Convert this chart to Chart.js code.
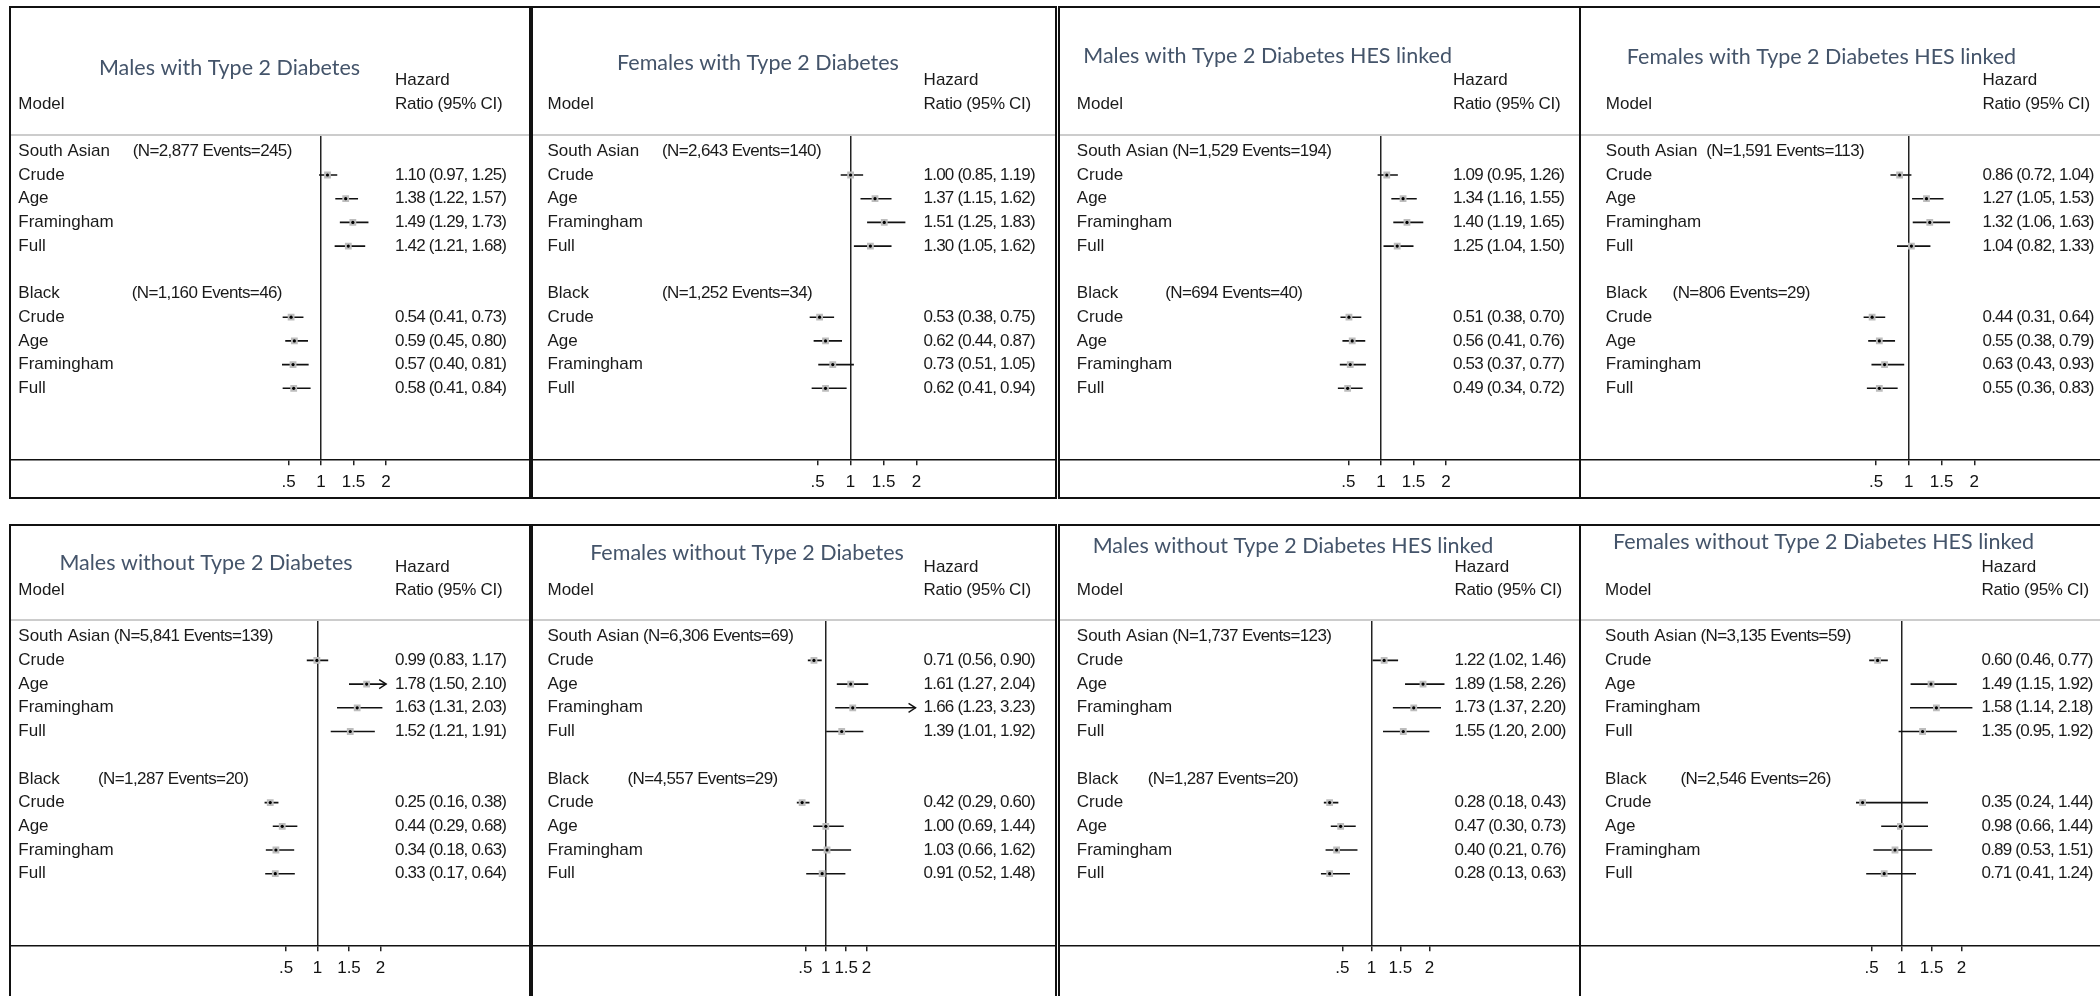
<!DOCTYPE html>
<html lang="en">
<head>
  <meta charset="UTF-8" />
  <title>Hazard ratios by ethnicity and model</title>
  <script src="https://cdn.jsdelivr.net/npm/chart.js"></script>
  <style>
    body {
      margin: 0;
      width: 2100px;
      height: 996px;
      overflow: hidden;
      position: relative;
      background: #ffffff;
    }
    .panel {
      position: absolute;
      box-sizing: border-box;
      border: 2px solid #111;
      background: #fff;
    }
    .panel canvas {
      display: block;
    }
  </style>
</head>
<body>
  <script>
    // ---------- data ----------
    const panelTitles = [
      "Males with Type 2 Diabetes",
      "Females with Type 2 Diabetes",
      "Males with Type 2 Diabetes HES linked",
      "Females with Type 2 Diabetes HES linked",
      "Males without Type 2 Diabetes",
      "Females without Type 2 Diabetes",
      "Males without Type 2 Diabetes HES linked",
      "Females without Type 2 Diabetes HES linked"
    ];
    const groupNames = ["South Asian", "Black"];
    const modelNames = ["Crude", "Age", "Framingham", "Full"];
    const groupCounts = [
      ["(N=2,877 Events=245)", "(N=1,160 Events=46)"],
      ["(N=2,643 Events=140)", "(N=1,252 Events=34)"],
      ["(N=1,529 Events=194)", "(N=694 Events=40)"],
      ["(N=1,591 Events=113)", "(N=806 Events=29)"],
      ["(N=5,841 Events=139)", "(N=1,287 Events=20)"],
      ["(N=6,306 Events=69)", "(N=4,557 Events=29)"],
      ["(N=1,737 Events=123)", "(N=1,287 Events=20)"],
      ["(N=3,135 Events=59)", "(N=2,546 Events=26)"]
    ];
    // order in each list: South Asian Crude, Age, Framingham, Full, then Black Crude, Age, Framingham, Full
    const hrValues = [
      [1.10, 1.38, 1.49, 1.42, 0.54, 0.59, 0.57, 0.58],
      [1.00, 1.37, 1.51, 1.30, 0.53, 0.62, 0.73, 0.62],
      [1.09, 1.34, 1.40, 1.25, 0.51, 0.56, 0.53, 0.49],
      [0.86, 1.27, 1.32, 1.04, 0.44, 0.55, 0.63, 0.55],
      [0.99, 1.78, 1.63, 1.52, 0.25, 0.44, 0.34, 0.33],
      [0.71, 1.61, 1.66, 1.39, 0.42, 1.00, 1.03, 0.91],
      [1.22, 1.89, 1.73, 1.55, 0.28, 0.47, 0.40, 0.28],
      [0.60, 1.49, 1.58, 1.35, 0.35, 0.98, 0.89, 0.71]
    ];
    const ciLower = [
      [0.97, 1.22, 1.29, 1.21, 0.41, 0.45, 0.40, 0.41],
      [0.85, 1.15, 1.25, 1.05, 0.38, 0.44, 0.51, 0.41],
      [0.95, 1.16, 1.19, 1.04, 0.38, 0.41, 0.37, 0.34],
      [0.72, 1.05, 1.06, 0.82, 0.31, 0.38, 0.43, 0.36],
      [0.83, 1.50, 1.31, 1.21, 0.16, 0.29, 0.18, 0.17],
      [0.56, 1.27, 1.23, 1.01, 0.29, 0.69, 0.66, 0.52],
      [1.02, 1.58, 1.37, 1.20, 0.18, 0.30, 0.21, 0.13],
      [0.46, 1.15, 1.14, 0.95, 0.24, 0.66, 0.53, 0.41]
    ];
    const ciUpper = [
      [1.25, 1.57, 1.73, 1.68, 0.73, 0.80, 0.81, 0.84],
      [1.19, 1.62, 1.83, 1.62, 0.75, 0.87, 1.05, 0.94],
      [1.26, 1.55, 1.65, 1.50, 0.70, 0.76, 0.77, 0.72],
      [1.04, 1.53, 1.63, 1.33, 0.64, 0.79, 0.93, 0.83],
      [1.17, 2.10, 2.03, 1.91, 0.38, 0.68, 0.63, 0.64],
      [0.90, 2.04, 3.23, 1.92, 0.60, 1.44, 1.62, 1.48],
      [1.46, 2.26, 2.20, 2.00, 0.43, 0.73, 0.76, 0.63],
      [0.77, 1.92, 2.18, 1.92, 1.44, 1.44, 1.51, 1.24]
    ];
    const tickValues = [0.5, 1, 1.5, 2];
    const tickLabels = [".5", "1", "1.5", "2"];

    // rows of the table: group header rows and model rows
    const groupRows = [0, 6];
    const modelRows = [1, 2, 3, 4, 7, 8, 9, 10];

    // ---------- layout (page pixels) ----------
    const rowLayout = [
      { top: 6, height: 493, hazardY: 80, ratioY: 104, sepY: 135, firstY: 151.3, gap: 23.7, axisY: 459.3 },
      { top: 524, height: 493, hazardY: 567, ratioY: 590, sepY: 620, firstY: 636.7, gap: 23.7, axisY: 945.3 }
    ];
    const panelLayout = [
      { row: 0, left: 9, width: 522, one: 321, unit: 65.0, labelX: 18.3, nSA: 114.4, nBlack: 113.4, hrX: 395, titleX: 229.5, titleY: 68, clipMax: Infinity },
      { row: 0, left: 531, width: 526, one: 850.6, unit: 66.0, labelX: 547.5, nSA: 114.4, nBlack: 114.4, hrX: 923.6, titleX: 758, titleY: 63, clipMax: Infinity },
      { row: 0, left: 1058, width: 523, one: 1380.9, unit: 65.2, labelX: 1076.8, nSA: 95.5, nBlack: 88.4, hrX: 1453, titleX: 1267.6, titleY: 56, clipMax: Infinity },
      { row: 0, left: 1579, width: 524, one: 1908.8, unit: 65.5, labelX: 1605.8, nSA: 100.5, nBlack: 66.8, hrX: 1982.5, titleX: 1821.5, titleY: 57, clipMax: Infinity },
      { row: 1, left: 9, width: 522, one: 317.5, unit: 63.0, labelX: 18.3, nSA: 95.5, nBlack: 79.7, hrX: 395, titleX: 206, titleY: 563, clipMax: 2.09 },
      { row: 1, left: 531, width: 526, one: 825.8, unit: 40.8, labelX: 547.5, nSA: 95.5, nBlack: 79.9, hrX: 923.6, titleX: 747, titleY: 553, clipMax: 3.2 },
      { row: 1, left: 1058, width: 523, one: 1371.4, unit: 58.0, labelX: 1076.8, nSA: 95.5, nBlack: 71, hrX: 1454.5, titleX: 1293, titleY: 546, clipMax: Infinity },
      { row: 1, left: 1579, width: 524, one: 1901.6, unit: 60.0, labelX: 1605.1, nSA: 95.4, nBlack: 75.4, hrX: 1981.5, titleX: 1823.5, titleY: 542, clipMax: Infinity }
    ];

    const BODY_FONT = "17px 'Liberation Sans', Arial, sans-serif";
    const TITLE_FONT = "400 21.5px Lato, 'Open Sans', sans-serif";
    const AXIS_H = 30;

    function fmt(v) {
      return v.toFixed(2);
    }

    function textPlugin(i) {
      return {
        id: "forestText" + i,
        afterDraw(chart) {
          const ctx = chart.ctx;
          const P = panelLayout[i];
          const R = rowLayout[P.row];
          const ox = P.left + 2;
          const oy = R.top + 2;
          const yScale = chart.scales.y;
          const xScale = chart.scales.x;

          ctx.save();
          ctx.textBaseline = "middle";

          // panel title
          ctx.font = TITLE_FONT;
          ctx.fillStyle = "#44546a";
          ctx.textAlign = "center";
          ctx.fillText(panelTitles[i], P.titleX - ox, P.titleY - oy);

          // column headers
          ctx.font = BODY_FONT;
          ctx.fillStyle = "#1a1a1a";
          ctx.textAlign = "left";
          ctx.fillText("Hazard", P.hrX - ox, R.hazardY - oy);
          ctx.letterSpacing = "-0.3px";
          ctx.fillText("Ratio (95% CI)", P.hrX - ox, R.ratioY - oy);
          ctx.letterSpacing = "0px";
          ctx.fillText("Model", P.labelX - ox, R.ratioY - oy);

          // group headers
          groupNames.forEach((g, gi) => {
            const gy = yScale.getPixelForValue(groupRows[gi]);
            ctx.letterSpacing = "0px";
            ctx.fillText(g, P.labelX - ox, gy);
            ctx.letterSpacing = "-0.6px";
            ctx.fillText(groupCounts[i][gi], P.labelX - ox + (gi ? P.nBlack : P.nSA), gy);
          });

          // model rows and estimates
          modelRows.forEach((r, k) => {
            const ry = yScale.getPixelForValue(r);
            ctx.letterSpacing = "0px";
            ctx.fillText(modelNames[k % 4], P.labelX - ox, ry);
            ctx.letterSpacing = "-0.8px";
            const txt = fmt(hrValues[i][k]) + " (" + fmt(ciLower[i][k]) + ", " + fmt(ciUpper[i][k]) + ")";
            ctx.fillText(txt, P.hrX - ox, ry);
          });
          ctx.letterSpacing = "0px";

          // arrow heads for intervals running past the plotted range
          ctx.strokeStyle = "#111";
          ctx.lineWidth = 1.4;
          modelRows.forEach((r, k) => {
            if (ciUpper[i][k] > P.clipMax) {
              const tx = xScale.getPixelForValue(P.clipMax);
              const ty = yScale.getPixelForValue(r);
              ctx.beginPath();
              ctx.moveTo(tx - 7, ty - 4.5);
              ctx.lineTo(tx, ty);
              ctx.lineTo(tx - 7, ty + 4.5);
              ctx.stroke();
            }
          });
          ctx.restore();
        }
      };
    }

    function buildPanel(i) {
      const P = panelLayout[i];
      const R = rowLayout[P.row];

      const div = document.createElement("div");
      div.className = "panel";
      div.style.left = P.left + "px";
      div.style.top = R.top + "px";
      div.style.width = P.width + "px";
      div.style.height = R.height + "px";
      const canvas = document.createElement("canvas");
      const cw = P.width - 4;
      const ch = R.height - 4;
      canvas.width = cw;
      canvas.height = ch;
      canvas.style.width = cw + "px";
      canvas.style.height = ch + "px";
      div.appendChild(canvas);
      document.body.appendChild(div);

      const canvasLeft = P.left + 2;
      const canvasTop = R.top + 2;
      const xMin = 1 - (P.one - canvasLeft) / P.unit;
      const xMax = xMin + cw / P.unit;
      const yMin = (R.sepY - R.firstY) / R.gap;
      const yMax = (R.axisY - R.firstY) / R.gap;

      const ciSets = modelRows.map((r, k) => ({
        data: [
          { x: ciLower[i][k], y: r },
          { x: Math.min(ciUpper[i][k], P.clipMax), y: r }
        ],
        showLine: true,
        borderColor: "#111",
        borderWidth: 1.6,
        pointRadius: 0,
        order: 3
      }));

      const boxSet = {
        data: modelRows.map((r, k) => ({ x: hrValues[i][k], y: r })),
        pointStyle: "rect",
        pointRadius: 4.8,
        backgroundColor: "#bdbdbd",
        borderWidth: 0,
        order: 2
      };

      const dotSet = {
        data: modelRows.map((r, k) => ({ x: hrValues[i][k], y: r })),
        pointStyle: "circle",
        pointRadius: 1.6,
        backgroundColor: "#000",
        borderWidth: 0,
        order: 1
      };

      new Chart(canvas.getContext("2d"), {
        type: "scatter",
        data: { datasets: [dotSet, boxSet, ...ciSets] },
        options: {
          responsive: false,
          animation: false,
          events: [],
          layout: {
            autoPadding: false,
            padding: {
              left: 0,
              right: 0,
              top: R.sepY - canvasTop,
              bottom: ch - AXIS_H - (R.axisY - canvasTop)
            }
          },
          plugins: {
            legend: { display: false },
            tooltip: { enabled: false }
          },
          scales: {
            x: {
              type: "linear",
              position: "bottom",
              min: xMin,
              max: xMax,
              bounds: "data",
              afterBuildTicks: (axis) => {
                axis.ticks = tickValues.map(v => ({ value: v }));
              },
              afterFit: (axis) => {
                axis.height = AXIS_H;
              },
              ticks: {
                autoSkip: false,
                maxRotation: 0,
                padding: 7,
                color: "#111",
                font: { family: "'Liberation Sans', Arial, sans-serif", size: 17 },
                callback: (v) => tickLabels[tickValues.indexOf(v)]
              },
              grid: {
                drawOnChartArea: true,
                drawTicks: true,
                tickLength: 6,
                tickColor: "#222",
                lineWidth: 1.5,
                color: (c) => (c.tick && c.tick.value === 1 ? "#222" : "rgba(0,0,0,0)")
              },
              border: { display: true, color: "#111", width: 1.5 }
            },
            x2: {
              type: "linear",
              position: "top",
              min: 0,
              max: 1,
              afterFit: (axis) => {
                axis.height = 0;
              },
              ticks: { display: false },
              grid: { display: true, drawOnChartArea: false, drawTicks: false, color: "rgba(0,0,0,0)" },
              border: { display: true, color: "#cccccc", width: 2 }
            },
            y: {
              type: "linear",
              display: false,
              reverse: true,
              min: yMin,
              max: yMax
            }
          }
        },
        plugins: [textPlugin(i)]
      });
    }

    window.onload = function () {
      for (let i = 0; i < panelTitles.length; i++) {
        buildPanel(i);
      }
    };
  </script>
</body>
</html>
